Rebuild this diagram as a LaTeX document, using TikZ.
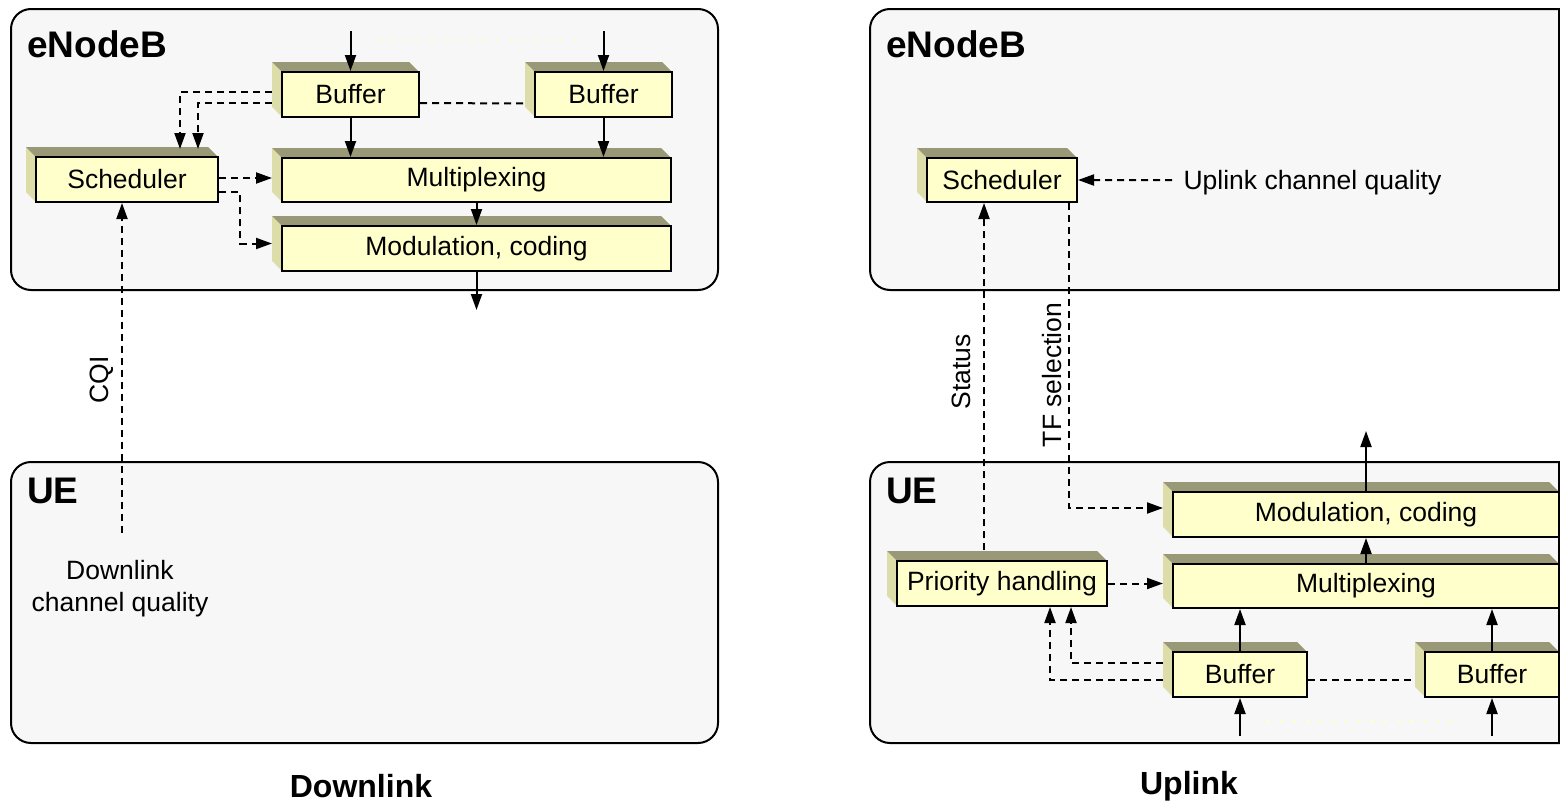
\documentclass[tikz,border=0pt]{standalone}
\usepackage{fontspec}
\setmainfont{Liberation Sans}
\usetikzlibrary{arrows.meta,calc}
\definecolor{frontc}{HTML}{FFFFCC}
\definecolor{topc}{HTML}{999977}
\definecolor{sidec}{HTML}{DDDDAA}
\definecolor{panelc}{HTML}{F7F7F7}
\definecolor{dotc}{HTML}{FFFFC8}
\newcommand{\slab}[6]{%
  \fill[sidec] (#2,#3) -- (#2,#5) -- ({#2-10},{#5-10}) -- ({#2-10},{#3-10}) -- cycle;
  \fill[topc] (#2,#3) -- (#4,#3) -- ({#4-10},{#3-10}) -- ({#2-10},{#3-10}) -- cycle;
  \pgfmathsetmacro\slabw{#4-#2}\pgfmathsetmacro\slabh{#5-#3}%
  \node[frontbox, minimum width=\slabw pt, minimum height=\slabh pt] (#1) at ({(#2+#4)/2},{(#3+#5)/2}) {#6};
  \coordinate (#1-l) at ({#2-10},{(#3+#5)/2-5});
}
\begin{document}
\begin{tikzpicture}[x=1pt,y=-1pt,
  txt/.style={font=\fontsize{26.5}{32}\selectfont},
  frontbox/.style={draw=black, line width=2pt, fill=frontc, inner sep=0pt, txt},
  panel/.style={draw=black, line width=2pt, fill=panelc, rounded corners=20pt},
  arr/.style={line width=2pt, -{Triangle[length=16pt,width=11pt]}},
  darr/.style={arr, dash pattern=on 7pt off 5pt},
  dline/.style={line width=2pt, dash pattern=on 7pt off 5pt},
  dotline/.style={draw=dotc, line width=2.5pt, dash pattern=on 2.5pt off 10.5pt},
  hdr/.style={font=\fontsize{37}{44}\selectfont\bfseries, inner sep=0pt},
  captxt/.style={font=\fontsize{32}{38}\selectfont\bfseries, inner sep=0pt}]
\useasboundingbox (0,0) rectangle (1560,803);
\fill[white] (0,0) rectangle (1560,803);

% ---------- panels ----------
\draw[panel] (11,9) rectangle (718,290);
\draw[panel] (11,462) rectangle (718,743);
\draw[panel] (870,9) rectangle (1600,290);
\draw[panel] (870,462) rectangle (1600,743);
\draw[line width=2pt] (1559,9) -- (1559,290);
\draw[line width=2pt] (1559,462) -- (1559,743);

\node[hdr, anchor=base west] (enb1) at (27,57) {eNodeB};
\node[hdr, anchor=base west] (ue1) at (27,503) {UE};
\node[hdr, anchor=base west] (enb2) at (886,57) {eNodeB};
\node[hdr, anchor=base west] (ue2) at (886,503) {UE};

\node[captxt] (dl) at (361,786) {Downlink};
\node[captxt] (ul) at (1189,786) {Uplink};

% ---------- downlink boxes ----------
\slab{b1}{282}{72}{419}{117}{Buffer}
\slab{b2}{535}{72}{672}{117}{Buffer}
\slab{sched1}{36}{157}{218}{202}{Scheduler}
\slab{mux1}{282}{158}{671}{202}{Multiplexing}
\slab{mod1}{282}{226}{671}{271}{Modulation, coding}

% ---------- uplink boxes ----------
\slab{sched2}{927}{158}{1077}{202}{Scheduler}
\slab{mod2}{1173}{492}{1559}{537}{Modulation, coding}
\slab{mux2}{1173}{564}{1559}{608}{Multiplexing}
\slab{prio}{897}{561}{1107}{606}{Priority handling}
\slab{b3}{1173}{652}{1307}{697}{Buffer}
\slab{b4}{1425}{652}{1559}{697}{Buffer}

% ---------- downlink connectors ----------
\draw[arr] ($(b1.north)+(0,-40)$) -- (b1.north);
\draw[arr] ($(b2.north)+(0,-40)$) -- (b2.north);
\draw[dotline] ($(b1.north)+(28,-30)$) -- ($(b2.north)+(-27,-30)$);
\draw[arr] (b1.south) -- (b1.south |- mux1.north);
\draw[arr] (b2.south) -- (b2.south |- mux1.north);
\draw[arr] (mux1.south) -- (mod1.north);
\draw[arr] (mod1.south) -- ++(0,38);
\draw[dline] ($(b1.east)+(0,8.5)$) -- ($(b2-l)+(0,14)$);
\draw[darr] ($(b1-l)+(0,2.5)$) -| ($(sched1.north east)+(-39,-7)$);
\draw[darr] ($(b1-l)+(0,13.5)$) -| ($(sched1.north east)+(-21,-7)$);
\draw[darr] ($(sched1.east)+(0,-1.5)$) -- ($(mux1-l)+(0,3)$);
\draw[darr] ($(sched1.east)+(0,12.5)$) -- ++(21,0) |- (mod1-l);

\node[txt, align=center] (dcq) at (120,589) {Downlink\\channel quality};
\coordinate (cqib) at (122,533);
\draw[darr] (cqib) -- (cqib |- sched1.south);
\node[txt, rotate=90] (cqi) at (102,380) {CQI};

% ---------- uplink connectors ----------
\node[txt, anchor=base west] (ucq) at (1180,189) {Uplink channel quality};
\draw[darr] ($(ucq.west)+(-8,-2)$) -- (sched2.east);
\coordinate (stb) at ($(prio.north)+(-18,-10)$);
\draw[darr] (stb) -- (stb |- sched2.south);
\node[txt, rotate=90] (status) at (961,372) {Status};
\draw[darr] ($(sched2.south)+(67,0)$) |- ($(mod2-l)+(0,-1.5)$);
\node[txt, rotate=90] (tfs) at (1052,375) {TF selection};
\draw[darr] (prio.east) -- (prio.east -| mux2-l);
\draw[arr] (mux2.north) -- (mod2.south);
\draw[arr] (mod2.north) -- ++(0,-60);
\draw[arr] (b3.north) -- (b3.north |- mux2.south);
\draw[arr] (b4.north) -- (b4.north |- mux2.south);
\draw[arr] ($(b3.south)+(0,38)$) -- (b3.south);
\draw[arr] ($(b4.south)+(0,38)$) -- (b4.south);
\draw[dotline] ($(b3.south)+(27,23)$) -- ($(b4.south)+(-32,23)$);
\draw[dline] ($(b3.east)+(0,5.5)$) -- ($(b4-l)+(0,10.5)$);
\draw[darr] ($(b3-l)+(0,-6.5)$) -| ($(prio.south)+(69,0)$);
\draw[darr] ($(b3-l)+(0,10.5)$) -| ($(prio.south)+(48,0)$);
\end{tikzpicture}
\end{document}
